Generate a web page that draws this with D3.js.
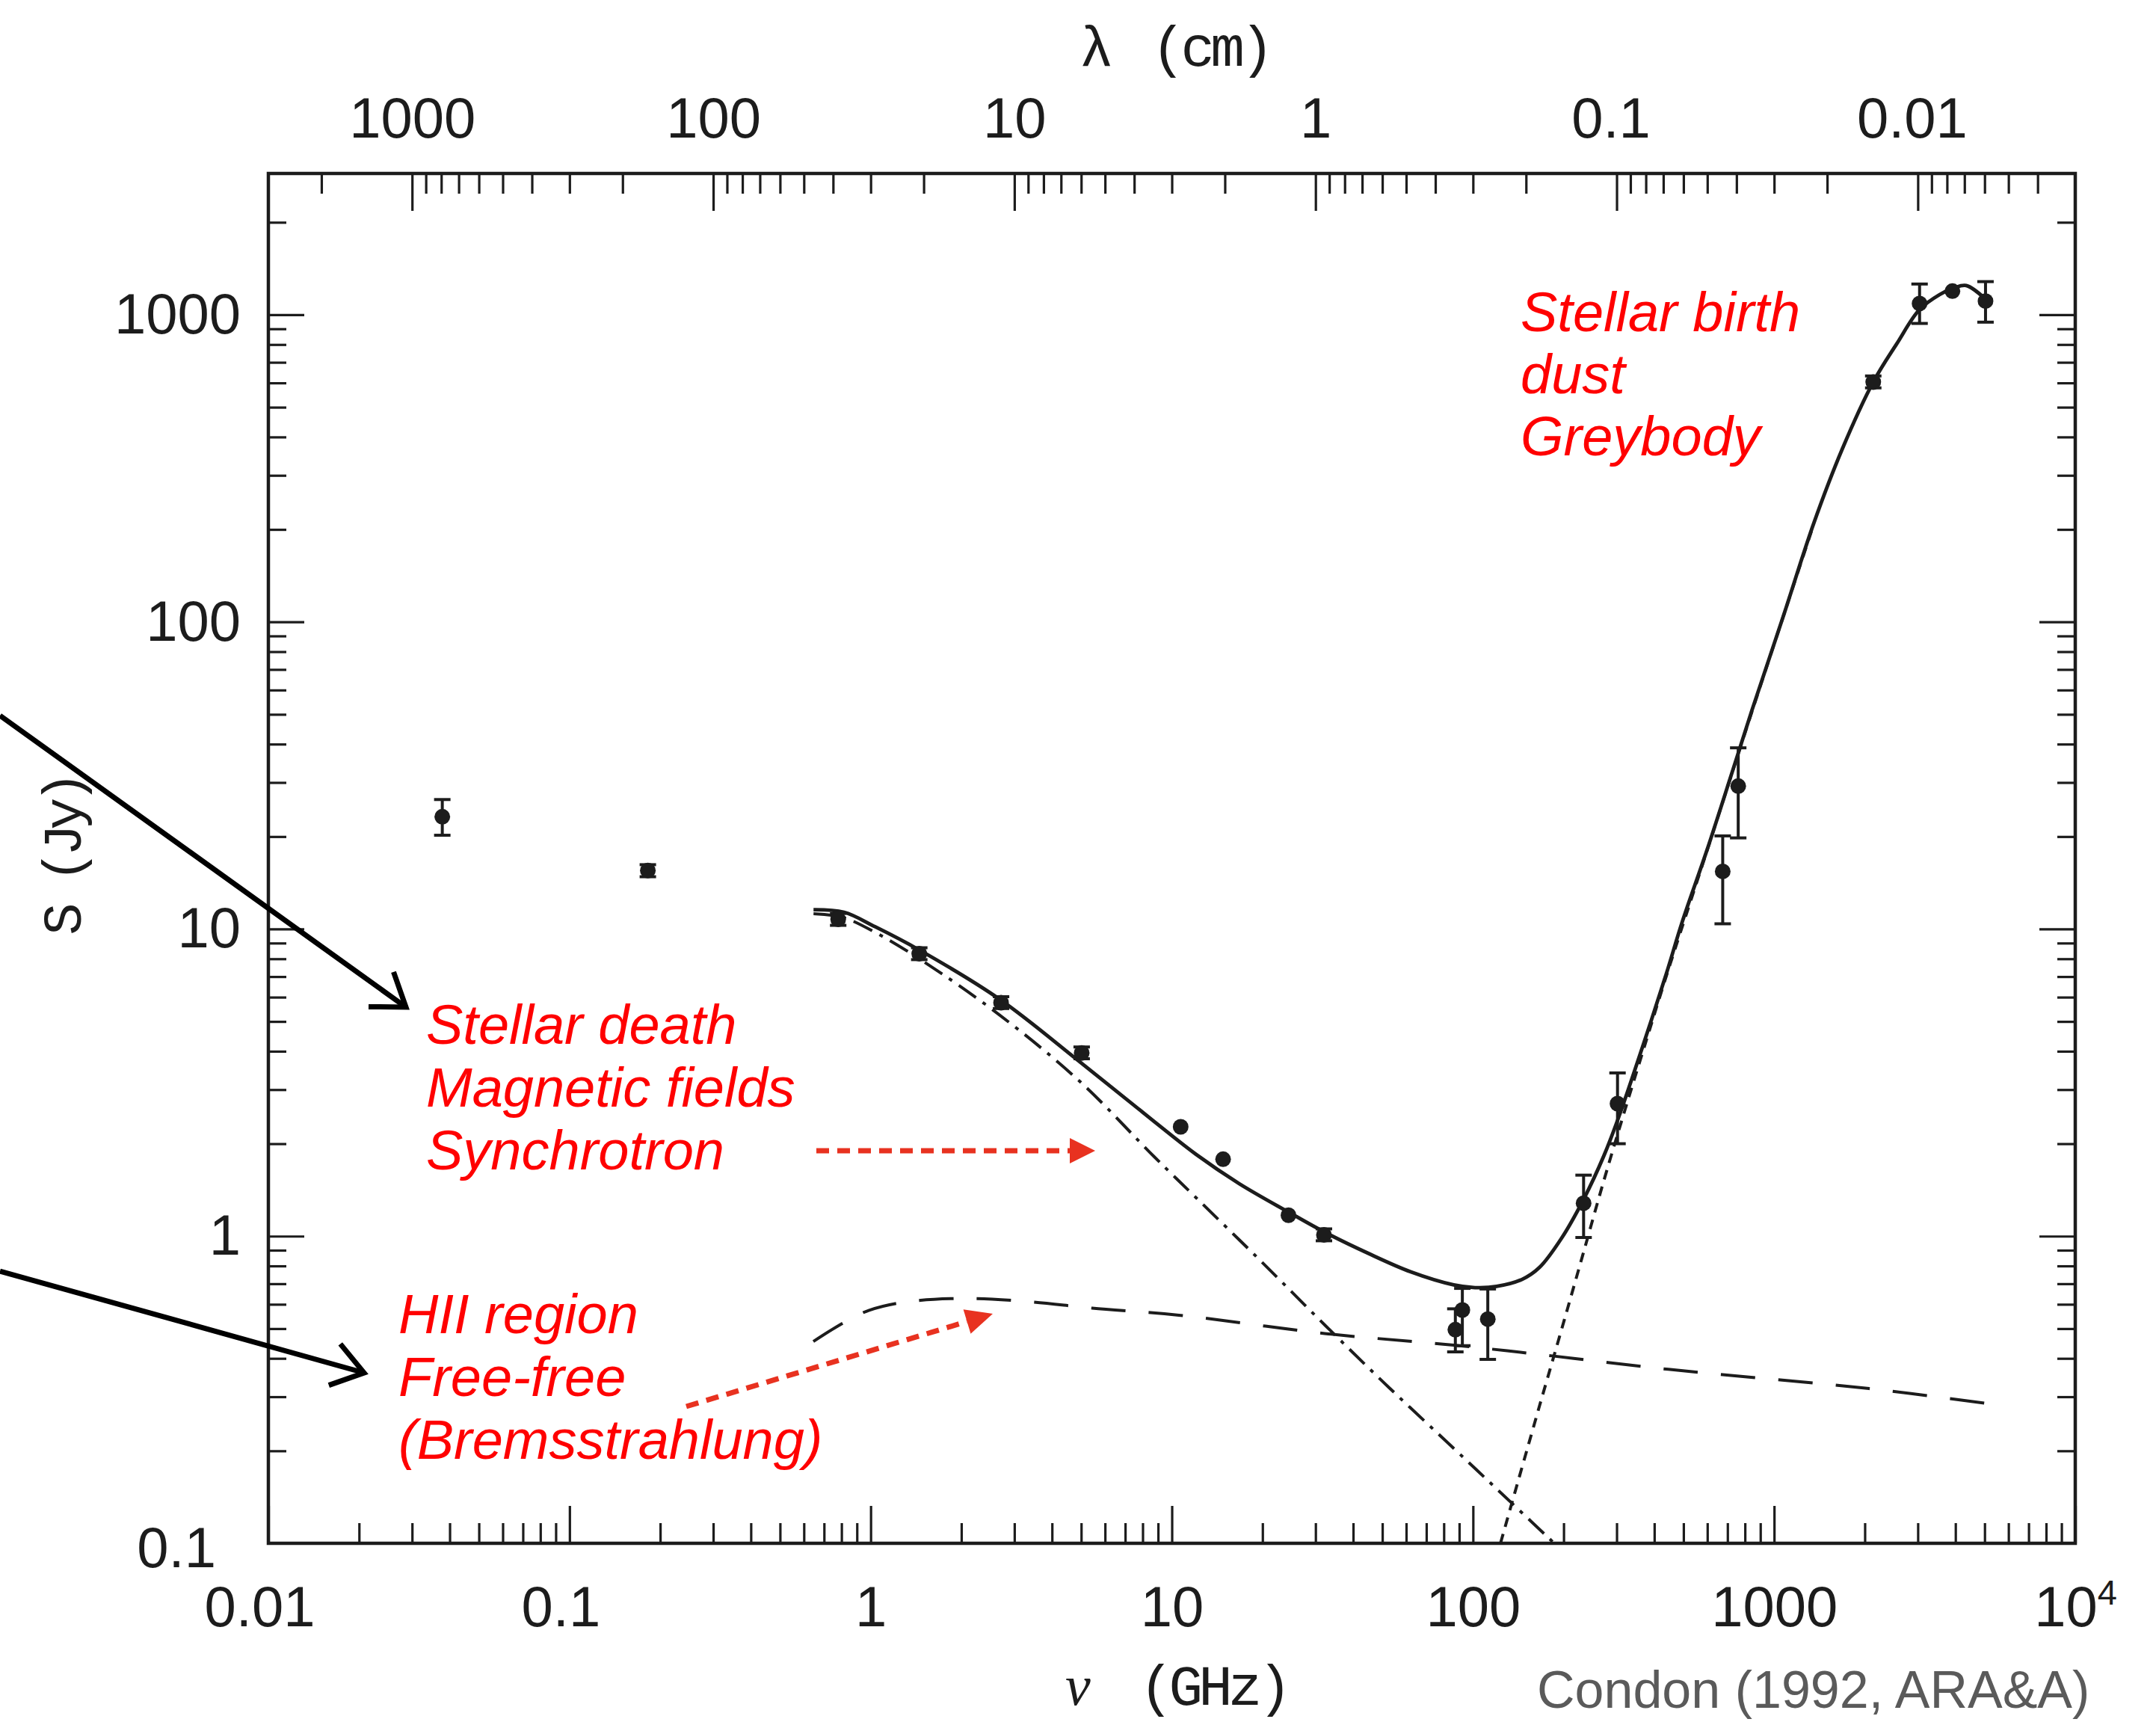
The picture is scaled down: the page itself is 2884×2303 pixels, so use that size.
<!DOCTYPE html>
<html>
<head>
<meta charset="utf-8">
<script src="https://cdn.jsdelivr.net/npm/d3@7"></script>
<style>
  html, body { margin: 0; padding: 0; background: #ffffff; }
  svg { display: block; }
</style>
</head>
<body>
<svg id="chart" width="2884" height="2303"></svg>
<script>
// Radio to far-infrared spectrum of a starburst galaxy:
// observed flux densities plus synchrotron, free-free and dust model curves.

// ---- tick labels ----
const freqTicks = [0.01, 0.1, 1, 10, 100, 1000, 10000];
const freqTickLabels = ["0.01", "0.1", "1", "10", "100", "1000", "10^4"];
const waveTicks = [1000, 100, 10, 1, 0.1, 0.01];
const waveTickLabels = ["1000", "100", "10", "1", "0.1", "0.01"];
const fluxTicks = [0.1, 1, 10, 100, 1000];
const fluxTickLabels = ["0.1", "1", "10", "100", "1000"];

// ---- observations: frequency (GHz), flux density (Jy), error limits ----
const obsFreq = [0.0378, 0.182, 0.78, 1.45, 2.71, 5.02, 10.7, 14.8, 24.4, 32.0,
                 87.4, 92.2, 112, 233, 302, 675, 760, 2134, 3041, 3910, 5035];
const obsFlux = [23.2, 15.5, 10.75, 8.31, 5.76, 3.95, 2.27, 1.78, 1.17, 1.01,
                 0.496, 0.575, 0.537, 1.28, 2.70, 15.4, 29.2, 604, 1088, 1194, 1108];
const obsLow  = [20.2, 14.8, 10.28, 7.95, 5.51, 3.78, null, null, null, 0.966,
                 0.42, 0.44, 0.397, 0.99, 2.0, 10.4, 19.8, 578, 937, null, 946];
const obsHigh = [26.4, 16.2, 11.24, 8.69, 6.02, 4.13, null, null, null, 1.056,
                 0.58, 0.676, 0.673, 1.58, 3.40, 20.1, 38.9, 632, 1259, null, 1282];

// ---- model: total spectrum ----
const totalFreq = [0.646, 0.816, 1.035, 1.443, 2.672, 4.94, 8.75, 12.05, 16.73, 24.4,
                   32.2, 44.8, 62.2, 86.3, 101.6, 119.8, 145.9, 166.3, 196.1, 233.3,
                   272.2, 305.4, 365.7, 438, 495, 598.8, 724.8, 843.9, 1071, 1354,
                   1686, 2134, 2553, 3041, 3545, 3957, 4346, 5035];
const totalFlux = [11.56, 11.34, 10.17, 8.57, 5.92, 3.70, 2.36, 1.845, 1.483, 1.198,
                   1.030, 0.880, 0.765, 0.694, 0.680, 0.686, 0.724, 0.791, 0.979, 1.321,
                   1.829, 2.455, 4.136, 7.12, 10.53, 18.1, 32.3, 51.5, 103.8, 209.4,
                   366.5, 604, 804, 1040, 1163, 1223, 1245, 1125];

// ---- model: synchrotron component ----
const syncFreq = [0.646, 0.804, 1.046, 1.512, 2.672, 4.94, 8.74, 12.05, 19.7, 32.2,
                  52.7, 86.3, 119.8, 186.2];
const syncFlux = [11.22, 10.93, 9.70, 7.79, 5.26, 3.195, 1.814, 1.333, 0.832, 0.514,
                  0.321, 0.2038, 0.1505, 0.1];

// ---- model: free-free component ----
const ffFreq = [0.645, 0.816, 0.985, 1.311, 2.107, 3.386, 5.44, 10.56, 32.2, 86.3,
                183.6, 445.5, 2067, 5055];
const ffFlux = [0.454, 0.524, 0.573, 0.611, 0.627, 0.611, 0.583, 0.553, 0.482, 0.4417,
                0.4075, 0.3685, 0.319, 0.2856];

// ---- model: thermal dust component ----
const dustFreq = [123.4, 166.3, 196.1, 230.9, 272.2, 320.6, 378, 438, 598.8, 843.9, 1354];
const dustFlux = [0.1, 0.28, 0.49, 0.86, 1.52, 2.6, 4.4, 7.0, 18.0, 51, 208];

// ---- layout ----
const frame = { left: 359, right: 2776, top: 232, bottom: 2064 };
const ink = "#1c1c1c";
const red = "#ff0000";
const arrowRed = "#e83220";

const svg = d3.select("#chart");

const x = d3.scaleLog().domain([0.01, 1e4]).range([frame.left, frame.right]);
const lam = d3.scaleLog().domain([3000, 0.003]).range([frame.left, frame.right]);
const y = d3.scaleLog().domain([0.1, 2884]).range([frame.bottom, frame.top]);

const isDecade = v => Math.abs(Math.log10(v) - Math.round(Math.log10(v))) < 1e-6;
const minorX = x.ticks().filter(v => !isDecade(v) && x(v) > frame.left + 1 && x(v) < frame.right - 1);
const minorL = lam.ticks().filter(v => !isDecade(v) && lam(v) > frame.left + 1 && lam(v) < frame.right - 1);
const minorY = y.ticks().filter(v => !isDecade(v) && y(v) > frame.top + 1);

const tickFont = "'Liberation Sans', Arial, Helvetica, sans-serif";
const monoFont = "'Liberation Mono', 'Courier New', monospace";

function styleAxis(g, size) {
  g.select(".domain").remove();
  g.selectAll(".tick line").attr("stroke", ink).attr("stroke-width", 3.2);
  g.attr("font-family", tickFont).attr("font-size", size);
  g.selectAll(".tick text").attr("fill", ink);
}

// bottom axis (frequency)
const gBottomMinor = svg.append("g").attr("transform", `translate(0,${frame.bottom})`)
  .call(d3.axisBottom(x).tickValues(minorX).tickSize(-27).tickFormat(""));
styleAxis(gBottomMinor, 76);
const gBottom = svg.append("g").attr("transform", `translate(0,${frame.bottom})`)
  .call(d3.axisBottom(x).tickValues(freqTicks).tickSize(-50).tickPadding(57)
        .tickFormat((d, i) => freqTickLabels[i]));
styleAxis(gBottom, 76);
gBottom.selectAll(".tick text")
  .attr("dx", d => (d < 1 ? -12 : 0))
  .each(function (d, i) {
    const lbl = freqTickLabels[i];
    if (lbl.includes("^")) {
      const [base, exp] = lbl.split("^");
      const t = d3.select(this).text("");
      t.append("tspan").text(base);
      t.append("tspan").attr("dy", "-0.62em").attr("font-size", "0.62em").text(exp);
    }
  });

// top axis (wavelength)
const gTopMinor = svg.append("g").attr("transform", `translate(0,${frame.top})`)
  .call(d3.axisTop(lam).tickValues(minorL).tickSize(-27).tickFormat(""));
styleAxis(gTopMinor, 76);
const gTop = svg.append("g").attr("transform", `translate(0,${frame.top})`)
  .call(d3.axisTop(lam).tickValues(waveTicks).tickSize(-50).tickPadding(48)
        .tickFormat((d, i) => waveTickLabels[i]));
styleAxis(gTop, 76);
gTop.selectAll(".tick text").attr("dx", d => (d < 1 ? -8 : 0));

// left axis (flux density)
const gLeftMinor = svg.append("g").attr("transform", `translate(${frame.left},0)`)
  .call(d3.axisLeft(y).tickValues(minorY).tickSize(-24).tickFormat(""));
styleAxis(gLeftMinor, 76);
const gLeft = svg.append("g").attr("transform", `translate(${frame.left},0)`)
  .call(d3.axisLeft(y).tickValues(fluxTicks).tickSize(-48).tickPadding(37)
        .tickFormat((d, i) => fluxTickLabels[i]));
styleAxis(gLeft, 76);
gLeft.selectAll(".tick text")
  .filter(d => d === 0.1)
  .attr("x", -70).attr("dy", "0.42em");

// right axis (ticks only)
const gRightMinor = svg.append("g").attr("transform", `translate(${frame.right},0)`)
  .call(d3.axisRight(y).tickValues(minorY).tickSize(-24).tickFormat(""));
styleAxis(gRightMinor, 76);
const gRight = svg.append("g").attr("transform", `translate(${frame.right},0)`)
  .call(d3.axisRight(y).tickValues(fluxTicks).tickSize(-48).tickFormat(""));
styleAxis(gRight, 76);

// plot frame
svg.append("rect")
  .attr("x", frame.left).attr("y", frame.top)
  .attr("width", frame.right - frame.left).attr("height", frame.bottom - frame.top)
  .attr("fill", "none").attr("stroke", ink).attr("stroke-width", 4.5);

// axis titles
const lamTitle = svg.append("text")
  .attr("y", 88).attr("font-size", 76).attr("fill", ink)
  .attr("font-family", monoFont);
lamTitle.append("tspan").attr("x", 1444).text("λ");
lamTitle.append("tspan").attr("x", 1540).attr("letter-spacing", -6).text("(cm)");

const nuTitle = svg.append("text")
  .attr("y", 2280).attr("font-size", 76).attr("fill", ink);
nuTitle.append("tspan").attr("x", 1425)
  .attr("font-family", "'Liberation Serif', 'DejaVu Serif', serif")
  .attr("font-style", "italic").text("ν");
nuTitle.append("tspan").attr("x", 1524)
  .attr("font-family", monoFont).attr("letter-spacing", -6).text("(GHz)");

svg.append("text")
  .attr("transform", "translate(108,1145) rotate(-90)")
  .attr("text-anchor", "middle")
  .attr("font-family", monoFont).attr("font-size", 72).attr("fill", ink)
  .attr("letter-spacing", -8)
  .text("S (Jy)");

// ---- model curves ----
svg.append("clipPath").attr("id", "plot-clip")
  .append("rect")
  .attr("x", frame.left).attr("y", frame.top)
  .attr("width", frame.right - frame.left).attr("height", frame.bottom - frame.top);

const curves = svg.append("g").attr("clip-path", "url(#plot-clip)");
const line = d3.line()
  .x(d => x(d[0])).y(d => y(d[1]))
  .curve(d3.curveCatmullRom.alpha(0.5));

curves.append("path").datum(d3.zip(ffFreq, ffFlux))
  .attr("d", line).attr("fill", "none").attr("stroke", ink)
  .attr("stroke-width", 4).attr("stroke-dasharray", "46 31");

curves.append("path").datum(d3.zip(syncFreq, syncFlux))
  .attr("d", line).attr("fill", "none").attr("stroke", ink)
  .attr("stroke-width", 4).attr("stroke-dasharray", "28 11 5 11");

curves.append("path").datum(d3.zip(dustFreq, dustFlux))
  .attr("d", line).attr("fill", "none").attr("stroke", ink)
  .attr("stroke-width", 4).attr("stroke-dasharray", "13 10");

curves.append("path").datum(d3.zip(totalFreq, totalFlux))
  .attr("d", line).attr("fill", "none").attr("stroke", ink)
  .attr("stroke-width", 4.8);

// ---- observed points with error bars ----
const obs = obsFreq.map((f, i) => ({ f, s: obsFlux[i], lo: obsLow[i], hi: obsHigh[i] }));
const capHalf = 11;
const pts = svg.append("g");
const withErr = obs.filter(d => d.lo !== null);
pts.selectAll("line.err").data(withErr).join("line")
  .attr("class", "err")
  .attr("x1", d => x(d.f)).attr("x2", d => x(d.f))
  .attr("y1", d => y(d.lo)).attr("y2", d => y(d.hi))
  .attr("stroke", ink).attr("stroke-width", 4);
pts.selectAll("line.capLo").data(withErr).join("line")
  .attr("class", "capLo")
  .attr("x1", d => x(d.f) - capHalf).attr("x2", d => x(d.f) + capHalf)
  .attr("y1", d => y(d.lo)).attr("y2", d => y(d.lo))
  .attr("stroke", ink).attr("stroke-width", 4);
pts.selectAll("line.capHi").data(withErr).join("line")
  .attr("class", "capHi")
  .attr("x1", d => x(d.f) - capHalf).attr("x2", d => x(d.f) + capHalf)
  .attr("y1", d => y(d.hi)).attr("y2", d => y(d.hi))
  .attr("stroke", ink).attr("stroke-width", 4);
pts.selectAll("circle").data(obs).join("circle")
  .attr("cx", d => x(d.f)).attr("cy", d => y(d.s)).attr("r", 10.5)
  .attr("fill", ink);

// ---- annotations ----
const notes = svg.append("g")
  .attr("font-family", tickFont).attr("font-style", "italic")
  .attr("font-size", 74).attr("fill", red);

function noteBlock(x0, y0, lines, step) {
  const t = notes.append("text").attr("x", x0).attr("y", y0);
  lines.forEach((s, i) => {
    t.append("tspan").attr("x", x0).attr("y", y0 + i * step).text(s);
  });
}
noteBlock(2034, 443, ["Stellar birth", "dust", "Greybody"], 83);
noteBlock(570, 1396, ["Stellar death", "Magnetic fields", "Synchrotron"], 84);
noteBlock(533, 1783, ["HII region", "Free-free", "(Bremsstrahlung)"], 84);

// red dotted pointers with solid heads
function dottedArrow(x1, y1, x2, y2, headLen, headHalf) {
  const a = Math.atan2(y2 - y1, x2 - x1);
  const bx = x2 - headLen * Math.cos(a), by = y2 - headLen * Math.sin(a);
  svg.append("line")
    .attr("x1", x1).attr("y1", y1).attr("x2", bx).attr("y2", by)
    .attr("stroke", arrowRed).attr("stroke-width", 7)
    .attr("stroke-dasharray", "17 11");
  const px = -Math.sin(a), py = Math.cos(a);
  svg.append("polygon")
    .attr("points", [
      [x2, y2],
      [bx + headHalf * px, by + headHalf * py],
      [bx - headHalf * px, by - headHalf * py]
    ].map(p => p.join(",")).join(" "))
    .attr("fill", arrowRed);
}
dottedArrow(1092, 1539, 1465, 1539, 34, 17);
dottedArrow(918, 1881, 1328, 1757, 36, 17);

// black pointers with open heads
function openArrow(x1, y1, x2, y2, armLen, spread) {
  const a = Math.atan2(y1 - y2, x1 - x2);
  svg.append("line")
    .attr("x1", x1).attr("y1", y1).attr("x2", x2).attr("y2", y2)
    .attr("stroke", "#000").attr("stroke-width", 7);
  const p1 = [x2 + armLen * Math.cos(a + spread), y2 + armLen * Math.sin(a + spread)];
  const p2 = [x2 + armLen * Math.cos(a - spread), y2 + armLen * Math.sin(a - spread)];
  svg.append("polyline")
    .attr("points", [p1, [x2, y2], p2].map(p => p.join(",")).join(" "))
    .attr("fill", "none").attr("stroke", "#000").attr("stroke-width", 7)
    .attr("stroke-linejoin", "miter");
}
openArrow(0, 957, 543, 1347, 50, 35 * Math.PI / 180);
openArrow(0, 1700, 487, 1836, 50, 35 * Math.PI / 180);

// source credit
svg.append("text")
  .attr("x", 2056).attr("y", 2284)
  .attr("font-family", tickFont).attr("font-size", 70).attr("fill", "#5a5a5a")
  .text("Condon (1992, ARA&A)");
</script>
</body>
</html>
